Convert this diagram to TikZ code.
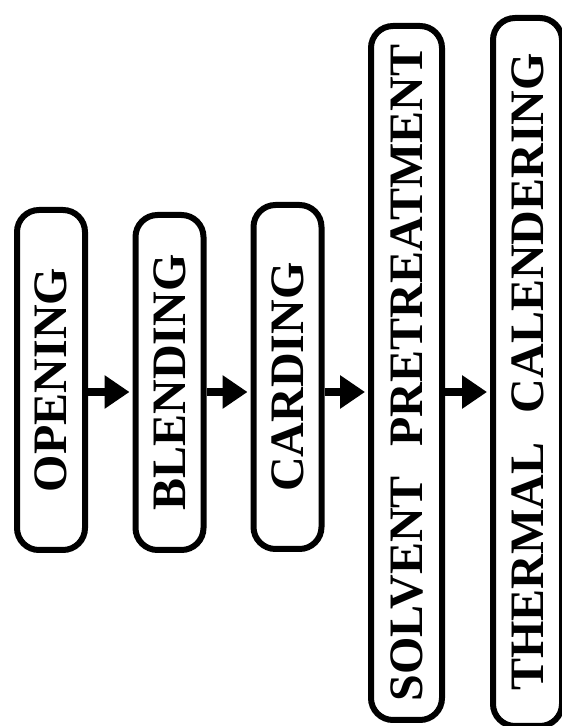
\documentclass[tikz,border=0pt]{standalone}
\usepackage{fontspec}
\setmainfont{Liberation Serif}
\usetikzlibrary{arrows.meta}
\tikzset{
  stage/.style={draw, line width=6pt, rounded corners=22pt, rotate=90, inner sep=0pt,
    minimum height=68pt, font=\bfseries\fontsize{48}{48}\selectfont},
  flow/.style={line width=8pt, -{Triangle[length=25pt,width=32pt]}, shorten >=3pt}
}
\begin{document}
\begin{tikzpicture}[x=1pt,y=1pt]
  \useasboundingbox (0,0) rectangle (562,726);
  \coordinate (lvl) at (0,334);
  \node[stage, minimum width=340pt] (open)  at (51,346)    {OPENING};
  \node[stage, minimum width=335pt] (blend) at (169.5,343.5) {BLENDING};
  \node[stage, minimum width=344pt] (card)  at (287.5,349) {CARDING};
  \node[stage, minimum width=694pt, minimum height=71pt] (solv) at (406.5,353) {SOLVENT\hspace{0.62em}PRETREATMENT};
  \node[stage, minimum width=708pt, minimum height=69pt] (therm) at (527.5,354) {THERMAL\hspace{0.62em}CALENDERING};
  \draw[flow] (open.south |- lvl) -- (blend.north |- lvl);
  \draw[flow] (blend.south |- lvl) -- (card.north |- lvl);
  \draw[flow] (card.south |- lvl) -- (solv.north |- lvl);
  \draw[flow] (solv.south |- lvl) -- (therm.north |- lvl);
\end{tikzpicture}
\end{document}
